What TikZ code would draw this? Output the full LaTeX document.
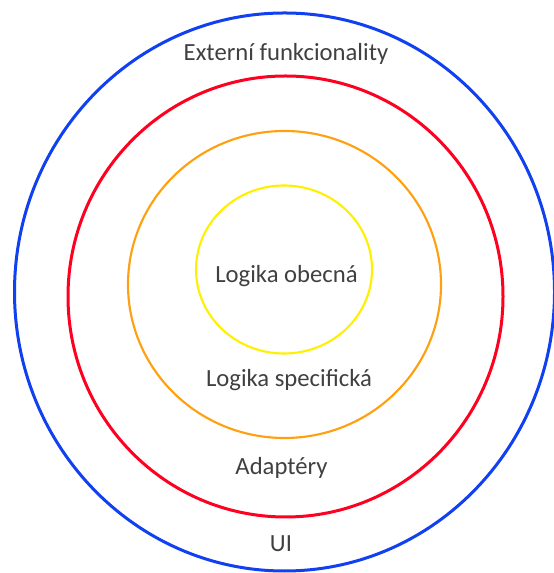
\documentclass[tikz,border=0pt]{standalone}
\usepackage{fontspec}
\setmainfont{Carlito}
\usepackage{tikz}
\usetikzlibrary{positioning}
\definecolor{vrstvaui}{RGB}{16,64,240}
\definecolor{vrstvaadapt}{RGB}{255,0,32}
\definecolor{vrstvaspec}{RGB}{255,160,16}
\definecolor{vrstvaobec}{RGB}{255,240,0}
\definecolor{popis}{RGB}{64,64,64}
\tikzset{vrstva/.style={line width=2.25pt},
  tenka/.style={line width=1.6pt},
  nazev/.style={anchor=base,inner sep=0pt,text=popis,
    font=\fontsize{18.5}{22}\selectfont}}

\begin{document}
\begin{tikzpicture}[x=0.75pt,y=0.75pt]

  \useasboundingbox (0,0) rectangle (553,573);

  \draw [vrstva,vrstvaui] (284.5,281) ellipse [x radius=270,y radius=279];
  \draw [vrstva,vrstvaadapt] (285.5,276.5) ellipse [x radius=217.5,y radius=220.5];
  \draw [tenka,vrstvaspec] (284.5,288.5) ellipse [x radius=156.5,y radius=153.5];
  \draw [tenka,vrstvaobec] (284,303.5) ellipse [x radius=88,y radius=84];



  \node [nazev] (ext) at (286,512) {Externí funkcionality};
  \node [nazev] (obec) at (286.5,290) {Logika obecná};
  \node [nazev] (spec) at (289,186) {Logika specifická};
  \node [nazev] (adapt) at (281.5,98) {Adaptéry};
  \node [nazev] (ui) at (281,21) {UI};

\end{tikzpicture}
\end{document}
